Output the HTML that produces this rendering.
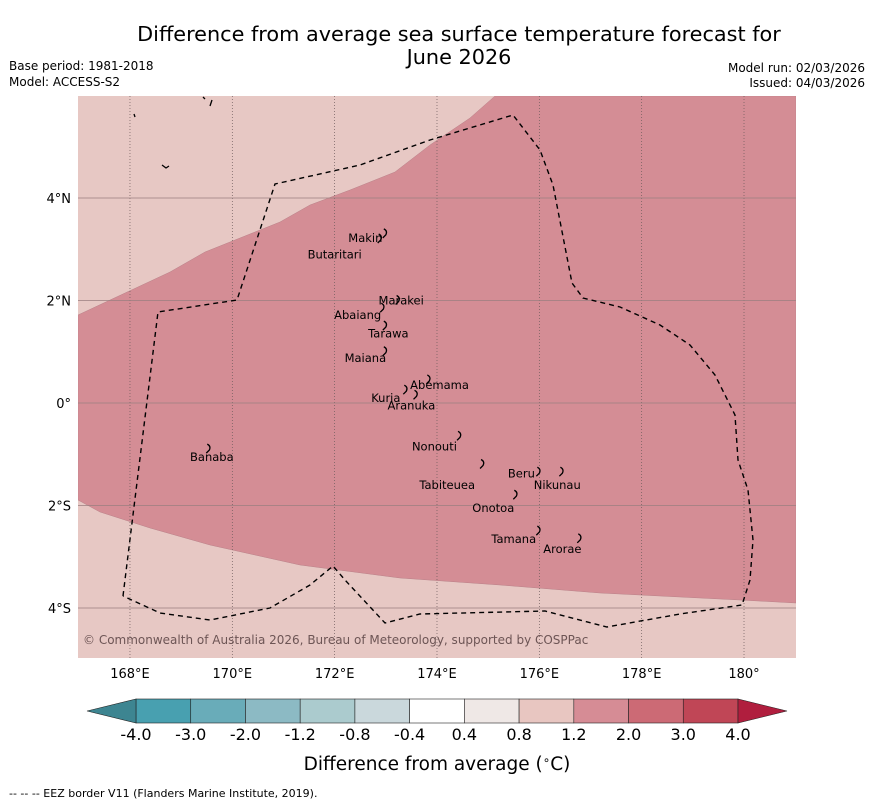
<!DOCTYPE html>
<html><head><meta charset="utf-8">
<style>
body{margin:0;background:#fff;font-family:"Liberation Sans","DejaVu Sans",sans-serif;}
svg text{font-family:"DejaVu Sans","Liberation Sans",sans-serif;}
</style></head>
<body>
<svg id="chart" width="873" height="804" viewBox="0 0 873 804" xmlns="http://www.w3.org/2000/svg">
<text x="459" y="41" font-size="20.8" text-anchor="middle">Difference from average sea surface temperature forecast for</text>
<text x="459" y="64" font-size="20.8" text-anchor="middle">June 2026</text>
<text x="9" y="70" font-size="12">Base period: 1981-2018</text>
<text x="9" y="86" font-size="12">Model: ACCESS-S2</text>
<text x="865" y="72" font-size="12" text-anchor="end">Model run: 02/03/2026</text>
<text x="865" y="87" font-size="12" text-anchor="end">Issued: 04/03/2026</text>
<defs><clipPath id="mapclip"><rect x="78" y="96" width="718" height="562"/></clipPath></defs>
<g id="map" clip-path="url(#mapclip)">
<rect x="78" y="96" width="718" height="562" fill="#e7c8c4"/>
<path d="M78,315 L170,272 L205,252 L280,222 L310,205 L350,190 L395,172 L430,145 L470,118 L495,96 L796,96 L796,603 L740,600 L600,593 L500,585 L400,578 L300,565 L210,545 L150,528 L100,512 L78,500 Z" fill="#d48d95" stroke="#b98088" stroke-width="0.5"/>
<g id="grid"></g>
<path d="M123,596 L158,312 L237,300 L275,184 L360,165 L430,140 L513,115 L540,150 L553,185 L572,283 L583,298 L620,307 L660,325 L690,345 L715,375 L735,415 L738,460 L748,490 L753,540 L750,580 L742,605 L680,614 L607,627 L545,611 L420,614 L385,623 L345,580 L333,566 L310,585 L270,608 L210,620 L160,613 L123,596" fill="none" stroke="#000" stroke-width="1.4" stroke-dasharray="5,4"/>
<path d="M134,114 l1,3 M203,97 l2,2 M212,100 l-2,6 M162,165 l4,3 l3,-2" fill="none" stroke="#000" stroke-width="1.3"/>
<g id="islands"></g>
<text x="83" y="644" font-size="12" fill="#6d5555">© Commonwealth of Australia 2026, Bureau of Meteorology, supported by COSPPac</text>
</g>
<g id="axes"></g>
<g id="colorbar"></g>
<text x="437" y="770" font-size="18.5" text-anchor="middle">Difference from average (<tspan font-size="12" dy="-6">∘</tspan><tspan dy="6">C)</tspan></text>
<text x="9" y="797" font-size="11">--  --  -- EEZ border V11 (Flanders Marine Institute, 2019).</text>
</svg>
<script>
const lonTicks=[168,170,172,174,176,178,180];
const lonLabels=["168°E","170°E","172°E","174°E","176°E","178°E","180°"];
const latTicks=[4,2,0,-2,-4];
const latLabels=["4°N","2°N","0°","2°S","4°S"];
const cbLevels=["-4.0","-3.0","-2.0","-1.2","-0.8","-0.4","0.4","0.8","1.2","2.0","3.0","4.0"];
const cbColors=["#48a0b0","#69acb9","#8cbac4","#abcbce","#cad8dc","#ffffff","#efe8e6","#e8c6c1","#d68c95","#cc6a75","#c04656"];
const islandNames=["Makin","Butaritari","Marakei","Abaiang","Tarawa","Maiana","Abemama","Kuria","Aranuka","Nonouti","Tabiteuea","Beru","Nikunau","Onotoa","Tamana","Arorae","Banaba"];
const islandLon=[173.0,172.9,173.25,172.95,173.0,173.0,173.85,173.4,173.6,174.45,174.9,176.0,176.45,175.55,176.0,176.8,169.55];
const islandLat=[3.3,3.2,2.0,1.85,1.5,1.0,0.45,0.25,0.15,-0.65,-1.2,-1.35,-1.35,-1.8,-2.5,-2.65,-0.9];
const labelLon=[172.6,172.0,173.3,172.45,173.05,172.6,174.05,173.0,173.5,173.95,174.2,175.65,176.35,175.1,175.5,176.45,169.6];
const labelLat=[3.22,2.9,2.0,1.72,1.36,0.88,0.35,0.1,-0.05,-0.85,-1.6,-1.38,-1.6,-2.05,-2.65,-2.85,-1.05];
const NS="http://www.w3.org/2000/svg";
const x=lon=>78.8+(lon-167)*51.17;
const y=lat=>403-lat*51.25;
function mk(tag,attrs,parent){const e=document.createElementNS(NS,tag);for(const k in attrs)e.setAttribute(k,attrs[k]);parent.appendChild(e);return e;}
const grid=document.getElementById('grid'),axes=document.getElementById('axes'),isl=document.getElementById('islands'),cb=document.getElementById('colorbar');
lonTicks.forEach((v,i)=>{
 const l=mk('line',{x1:x(v),x2:x(v),y1:96,y2:658,stroke:'#6b5a5a','stroke-width':0.7,'stroke-dasharray':'1,2'},grid);
 
 
 const t=mk('text',{x:x(v),y:678,'font-size':13,'text-anchor':'middle'},axes);t.textContent=lonLabels[i];
 
 
});
latTicks.forEach((v,i)=>{
 const l=mk('line',{x1:78,x2:796,y1:y(v),y2:y(v),stroke:'#9b7f80','stroke-width':0.8},grid);
 
 
 const t=mk('text',{x:71,y:y(v)+5,'font-size':13,'text-anchor':'end'},axes);t.textContent=latLabels[i];
 
 
});
islandNames.forEach((n,i)=>{
 const px=x(islandLon[i]),py=y(islandLat[i]);
 const p=mk('path',{d:`M${px-2},${py-5} q4,2 2,6 l-3,3`,fill:'none',stroke:'#000','stroke-width':1.3},isl);
 
 
 const t=mk('text',{x:x(labelLon[i]),y:y(labelLat[i])+4,'font-size':11.5,'text-anchor':'middle'},isl);t.textContent=n;
 
 
});
const cx0=136,cx1=738,cy=699,ch=24,w=(cx1-cx0)/cbColors.length;
cbColors.forEach((c,i)=>{
 const r=mk('rect',{x:cx0+i*w,y:cy,width:w,height:ch,fill:c,stroke:'#222','stroke-width':0.6},cb);
 
 
});
const lt=mk('polygon',{points:`${cx0},${cy} ${cx0},${cy+ch} 87,${cy+ch/2}`,fill:'#3d8591',stroke:'#222','stroke-width':0.6},cb);


const rt=mk('polygon',{points:`${cx1},${cy} ${cx1},${cy+ch} 787,${cy+ch/2}`,fill:'#b01e3e',stroke:'#222','stroke-width':0.6},cb);


cbLevels.forEach((v,i)=>{
 const t=mk('text',{x:cx0+i*w,y:740,'font-size':16,'text-anchor':'middle'},cb);t.textContent=v;
 
 
});
</script>
</body></html>
